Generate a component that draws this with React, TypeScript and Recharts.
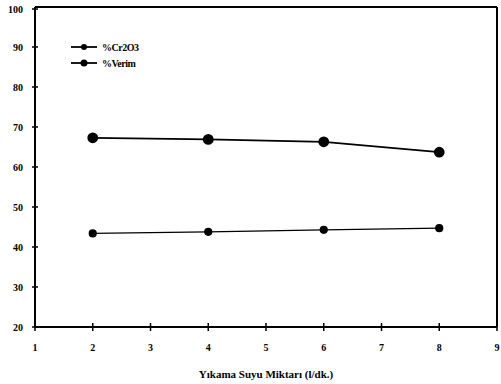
import React from 'react';
import {
  LineChart,
  Line,
  XAxis,
  YAxis,
  Label,
  ReferenceLine,
} from 'recharts';

const FONT = '"Liberation Serif", "DejaVu Serif", serif';

const waterAmounts = [2, 4, 6, 8];
const cr2o3Values = [43.4, 43.8, 44.3, 44.7];
const verimValues = [67.3, 66.9, 66.3, 63.7];
const xTicks = [1, 2, 3, 4, 5, 6, 7, 8, 9];
const yTicks = [20, 30, 40, 50, 60, 70, 80, 90, 100];
const seriesNames = ['%Cr2O3', '%Verim'];

const data = waterAmounts.map((x, i) => ({
  x,
  cr2o3: cr2o3Values[i],
  verim: verimValues[i],
}));

// crossing tick marks, like the scanned original
const YTick = (props: any) => {
  const { x, y, payload } = props;
  const ax = x + 10;
  return (
    <g>
      <line x1={ax - 3} x2={ax + 3} y1={y} y2={y} stroke="#000" strokeWidth={1.5} />
      <text x={x - 2} y={y} dy={3.5} textAnchor="end" fontSize={10} fontWeight={700} fontFamily={FONT} fill="#000">
        {payload.value}
      </text>
    </g>
  );
};

const XTick = (props: any) => {
  const { x, y, payload } = props;
  const ay = y - 14;
  return (
    <g>
      <line x1={x} x2={x} y1={ay - 4} y2={ay + 4} stroke="#000" strokeWidth={1.5} />
      <text x={x} y={y} dy={10} textAnchor="middle" fontSize={10} fontWeight={700} fontFamily={FONT} fill="#000">
        {payload.value}
      </text>
    </g>
  );
};

const LegendBox = () => (
  <div style={{ position: 'absolute', left: 71, top: 39, fontFamily: FONT, fontSize: 10, fontWeight: 700 }}>
    {seriesNames.map((name, i) => (
      <div key={name} style={{ display: 'flex', alignItems: 'center', height: 16 }}>
        <svg width={26} height={10}>
          <line x1={0} x2={26} y1={5} y2={5} stroke="#000" strokeWidth={1.8} />
          <circle cx={13} cy={5} r={i === 0 ? 3 : 3.5} fill="#000" />
        </svg>
        <span style={{ marginLeft: 5, letterSpacing: -0.5 }}>{name}</span>
      </div>
    ))}
  </div>
);

export default function App() {
  return (
    <div style={{ position: 'absolute', left: 0, top: 0, width: 501, height: 384, background: '#fff' }}>
      <LineChart
        width={501}
        height={384}
        data={data}
        margin={{ top: 7, right: 4, bottom: 0, left: 0 }}
      >
        <XAxis
          dataKey="x"
          type="number"
          domain={[1, 9]}
          ticks={xTicks}
          tickLine={false}
          tickSize={0}
          tickMargin={14}
          axisLine={{ stroke: '#000', strokeWidth: 2 }}
          tick={<XTick />}
          height={57}
        >
          <Label
            value="Yıkama Suyu Miktarı (l/dk.)"
            position="insideBottom"
            offset={6}
            style={{ fontFamily: FONT, fontSize: 11, fontWeight: 700, fill: '#000' }}
          />
        </XAxis>
        <YAxis
          type="number"
          domain={[20, 100]}
          ticks={yTicks}
          tickLine={false}
          tickSize={0}
          tickMargin={10}
          axisLine={{ stroke: '#000', strokeWidth: 2 }}
          tick={<YTick />}
          width={35}
        />
        <ReferenceLine y={100} stroke="#000" strokeWidth={2} />
        <ReferenceLine x={9} stroke="#000" strokeWidth={2} />
        <Line
          dataKey="cr2o3"
          name={seriesNames[0]}
          stroke="#000"
          strokeWidth={1.2}
          dot={{ r: 3.5, fill: '#000', stroke: '#000' }}
          isAnimationActive={false}
        />
        <Line
          dataKey="verim"
          name={seriesNames[1]}
          stroke="#000"
          strokeWidth={1.8}
          dot={{ r: 4.5, fill: '#000', stroke: '#000' }}
          isAnimationActive={false}
        />
      </LineChart>
      <LegendBox />
    </div>
  );
}
